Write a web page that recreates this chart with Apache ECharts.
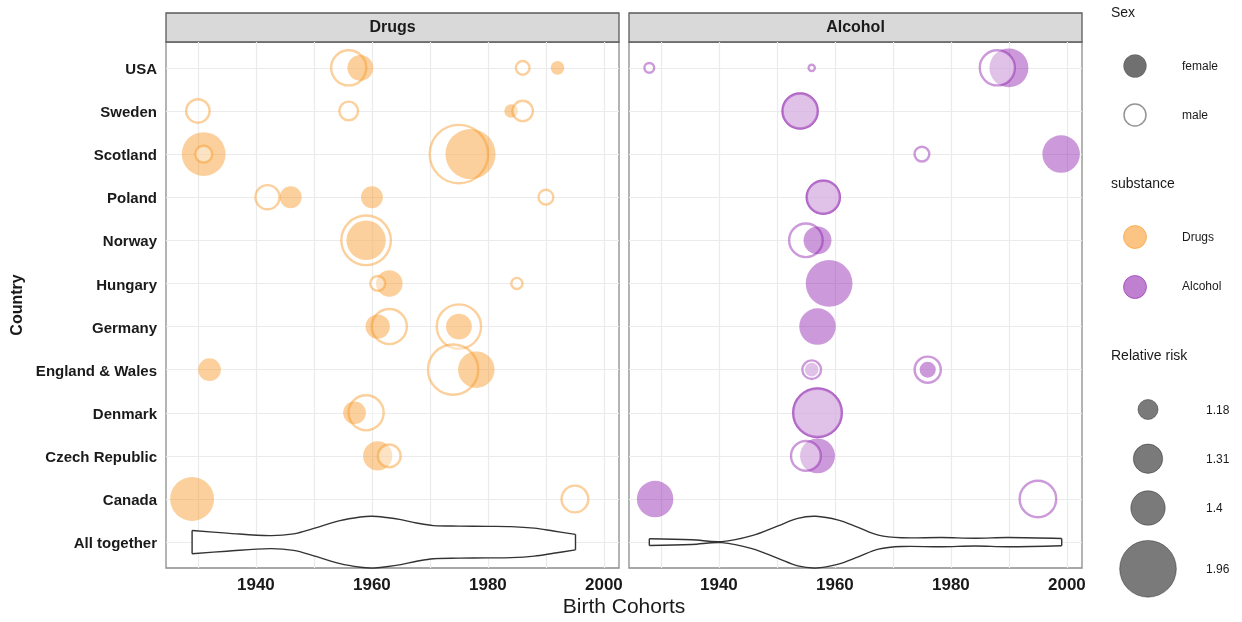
<!DOCTYPE html>
<html><head><meta charset="utf-8">
<script src="https://cdn.jsdelivr.net/npm/echarts@6/dist/echarts.min.js"></script>
<style>html,body{margin:0;padding:0;background:#fff}#c{width:1242px;height:622px}</style>
</head><body><div id="c"></div>
<script>
// ---------- data ----------
const countries = ['USA','Sweden','Scotland','Poland','Norway','Hungary','Germany','England & Wales','Denmark','Czech Republic','Canada','All together'];
const panels = ['Drugs','Alcohol'];
const xGridYears = [1930,1940,1950,1960,1970,1980,1990,2000];
const xLabelYears = [1940,1960,1980,2000];
const rrLegendValues = [1.18,1.31,1.4,1.96];

// Drugs (draw order)
const drugsCountry = ['USA','USA','USA','USA','Sweden','Sweden','Sweden','Sweden','Scotland','Scotland','Scotland','Scotland','Poland','Poland','Poland','Poland','Norway','Norway','Hungary','Hungary','Hungary','Germany','Germany','Germany','Germany','England & Wales','England & Wales','England & Wales','Denmark','Denmark','Czech Republic','Czech Republic','Canada','Canada'];
const drugsYear    = [1956,1958,1986,1992,1930,1956,1984,1986,1931,1931,1975,1977,1942,1946,1960,1990,1959,1959,1963,1961,1985,1963,1961,1975,1975,1932,1974,1978,1959,1957,1961,1963,1929,1995];
const drugsSex     = ['male','female','male','female','male','male','female','male','female','male','male','female','male','female','female','male','male','female','female','male','male','male','female','male','female','female','male','female','male','female','female','male','female','male'];
const drugsRR      = [1.44,1.24,1.13,1.11,1.24,1.18,1.11,1.20,1.58,1.16,2.06,1.74,1.25,1.19,1.19,1.14,1.79,1.48,1.25,1.14,1.11,1.44,1.22,1.65,1.24,1.20,1.81,1.42,1.44,1.20,1.29,1.23,1.58,1.29];

// Alcohol (draw order)
const alcCountry = ['USA','USA','USA','USA','Sweden','Sweden','Scotland','Scotland','Poland','Poland','Norway','Norway','Hungary','Germany','England & Wales','England & Wales','England & Wales','England & Wales','Denmark','Denmark','Czech Republic','Czech Republic','Canada','Canada'];
const alcYear    = [1928,1956,1990,1988,1954,1954,1975,1999,1958,1958,1955,1957,1959,1957,1956,1956,1976,1976,1957,1957,1957,1955,1929,1995];
const alcSex     = ['male','male','female','male','female','male','male','female','female','male','male','female','female','female','female','male','male','female','female','male','female','male','female','male'];
const alcRR      = [1.10,1.08,1.47,1.44,1.44,1.44,1.14,1.44,1.40,1.40,1.41,1.27,1.65,1.42,1.11,1.18,1.28,1.13,1.76,1.76,1.39,1.34,1.42,1.47];

// "All together" violins (birth-cohort density, relative to max)
const drugsViolinYear    = [1929,1935,1942.4,1946.5,1950,1954.5,1958,1960,1962.5,1965,1967.7,1970.6,1975,1980,1984,1988,1991.3,1995.1];
const drugsViolinDensity = [0.45,0.35,0.25,0.32,0.53,0.83,0.97,1.0,0.95,0.87,0.74,0.64,0.62,0.61,0.60,0.54,0.43,0.30];
const alcViolinYear      = [1928,1935.3,1940.5,1945.7,1950.2,1953.6,1956.7,1960.6,1964,1967.5,1971.5,1978.4,1984.2,1989.8,1999.1];
const alcViolinDensity   = [0.13,0.09,0.02,0.25,0.63,0.92,1.0,0.85,0.57,0.27,0.17,0.18,0.15,0.18,0.14];

// ---------- styles ----------
const FONT = 'Liberation Sans';
const X_MIN = 1924.5, X_MAX = 2002.6;
const Y_MIN = -0.6, Y_MAX = 11.6;
const VIOLIN_HALF = 0.6;
const RING_W = 2.4;
const COLORS = {
  Drugs:   {fill:'rgba(247,148,29,0.55)', ring:'rgba(247,148,29,0.55)'},
  Alcohol: {fill:'rgba(140,24,170,0.55)', ring:'rgba(140,24,170,0.55)'}
};
function sizeFor(v){ return Math.sqrt(3700*(v-1.06)); }

function buildPoints(panel, cArr, yArr, sArr, rArr){
  const col = COLORS[panel];
  return cArr.map((c,i)=>{
    const female = sArr[i]==='female';
    const d = sizeFor(rArr[i]);
    return {
      value:[yArr[i], countries.indexOf(c)],
      symbolSize: female ? d : Math.max(d - RING_W, 2),
      itemStyle: female
        ? {color: col.fill, borderWidth: 0}
        : {color:'rgba(255,255,255,0.5)', borderColor: col.ring, borderWidth: RING_W}
    };
  });
}

function violinSeries(gi, years, dens){
  return {
    type:'custom', xAxisIndex:gi, yAxisIndex:gi, data:[0], silent:true, z:3, clip:false,
    renderItem:(params, api)=>{
      const yc = countries.indexOf('All together');
      const top = years.map((yr,i)=>api.coord([yr, yc - dens[i]*VIOLIN_HALF]));
      const bot = years.map((yr,i)=>api.coord([yr, yc + dens[i]*VIOLIN_HALF]));
      const n = years.length-1;
      const ls = {stroke:'#333333', lineWidth:1.4, fill:null};
      return {type:'group', children:[
        {type:'polygon', shape:{points: top.concat(bot.slice().reverse())}, style:{fill:'#ffffff', stroke:null}},
        {type:'polyline', shape:{points:top, smooth:0.35}, style:ls},
        {type:'polyline', shape:{points:bot, smooth:0.35}, style:ls},
        {type:'line', shape:{x1:top[0][0],y1:top[0][1],x2:bot[0][0],y2:bot[0][1]}, style:ls},
        {type:'line', shape:{x1:top[n][0],y1:top[n][1],x2:bot[n][0],y2:bot[n][1]}, style:ls}
      ]};
    }
  };
}

const grids = [
  {left:166, top:42, width:453, height:526},
  {left:629, top:42, width:453, height:526}
].map(g=>Object.assign(g,{show:true, borderColor:'#8c8c8c', borderWidth:1.3, backgroundColor:'#fff'}));

const xAxes = [0,1].map(gi=>({
  type:'value', gridIndex:gi, min:X_MIN, max:X_MAX,
  axisLine:{show:false},
  axisTick:{show:false, customValues:xGridYears},
  axisLabel:{customValues:xLabelYears, formatter:v=>String(v), fontFamily:FONT, fontWeight:'bold', fontSize:17, color:'#1a1a1a', margin:9},
  splitLine:{show:true, lineStyle:{color:'#ebebeb', width:1.2}}
}));
const yAxes = [0,1].map(gi=>({
  type:'value', gridIndex:gi, min:Y_MIN, max:Y_MAX, inverse:true,
  axisLine:{show:false},
  axisTick:{show:false, customValues:countries.map((c,i)=>i)},
  axisLabel:{show:gi===0, customValues:countries.map((c,i)=>i), formatter:v=>'{a|'+(countries[Math.round(v)]||'')+'}',
    margin:9,
    rich:{a:{fontFamily:FONT, fontWeight:'bold', fontSize:15, color:'#1a1a1a', padding:[4,0,0,0]}}},
  splitLine:{show:true, lineStyle:{color:'#ebebeb', width:1.2}}
}));

const series = [
  {type:'scatter', xAxisIndex:0, yAxisIndex:0, symbol:'circle', z:4, clip:false,
   data: buildPoints('Drugs', drugsCountry, drugsYear, drugsSex, drugsRR)},
  {type:'scatter', xAxisIndex:1, yAxisIndex:1, symbol:'circle', z:4, clip:false,
   data: buildPoints('Alcohol', alcCountry, alcYear, alcSex, alcRR)},
  violinSeries(0, drugsViolinYear, drugsViolinDensity),
  violinSeries(1, alcViolinYear, alcViolinDensity)
];

// ---------- graphics: strips, titles, legend ----------
const txt = (x,y,text,o)=>Object.assign({type:'text', x, y, style:Object.assign({text, fontFamily:FONT, fill:'#1a1a1a', fontSize:12, textVerticalAlign:'middle', textAlign:'left'}, o||{})});
const graphics = [];
grids.forEach((g,i)=>{
  graphics.push({type:'rect', shape:{x:g.left, y:13, width:g.width, height:29}, style:{fill:'#d9d9d9', stroke:'#5a5a5a', lineWidth:1.3}});
  graphics.push(txt(g.left+g.width/2, 28, panels[i], {fontSize:16, fontWeight:'bold', textAlign:'center'}));
});
graphics.push(txt(624, 607, 'Birth Cohorts', {fontSize:21, textAlign:'center'}));
graphics.push({type:'text', x:18, y:305, rotation:Math.PI/2, style:{text:'Country', fontFamily:FONT, fontSize:16, fontWeight:'bold', fill:'#1a1a1a', textAlign:'center', textVerticalAlign:'middle'}});

// legend: Sex
graphics.push(txt(1111, 13, 'Sex', {fontSize:14}));
graphics.push({type:'circle', shape:{cx:1135, cy:66, r:11.5}, style:{fill:'rgba(0,0,0,0.56)', stroke:'rgba(0,0,0,0.15)', lineWidth:1}});
graphics.push(txt(1182, 67, 'female'));
graphics.push({type:'circle', shape:{cx:1135, cy:115, r:11}, style:{fill:'#ffffff', stroke:'rgba(0,0,0,0.42)', lineWidth:1.5}});
graphics.push(txt(1182, 116, 'male'));
// legend: substance
graphics.push(txt(1111, 184, 'substance', {fontSize:14}));
graphics.push({type:'circle', shape:{cx:1135, cy:237, r:11.5}, style:{fill:COLORS.Drugs.fill, stroke:COLORS.Drugs.ring, lineWidth:1}});
graphics.push(txt(1182, 238, 'Drugs'));
graphics.push({type:'circle', shape:{cx:1135, cy:287, r:11.5}, style:{fill:COLORS.Alcohol.fill, stroke:COLORS.Alcohol.ring, lineWidth:1}});
graphics.push(txt(1182, 287, 'Alcohol'));
// legend: relative risk
graphics.push(txt(1111, 356, 'Relative risk', {fontSize:14}));
const rrY = [409.5, 458.7, 508, 568.8];
rrLegendValues.forEach((v,i)=>{
  graphics.push({type:'circle', shape:{cx:1148, cy:rrY[i], r:sizeFor(v)/2-0.5}, style:{fill:'rgba(0,0,0,0.52)', stroke:'rgba(0,0,0,0.35)', lineWidth:1}});
  graphics.push(txt(1206, rrY[i]+1, String(v)));
});

const chart = echarts.init(document.getElementById('c'), null, {renderer:'canvas'});
chart.setOption({
  animation:false,
  backgroundColor:'#ffffff',
  grid: grids, xAxis: xAxes, yAxis: yAxes, series,
  graphic: graphics
});
</script></body></html>
